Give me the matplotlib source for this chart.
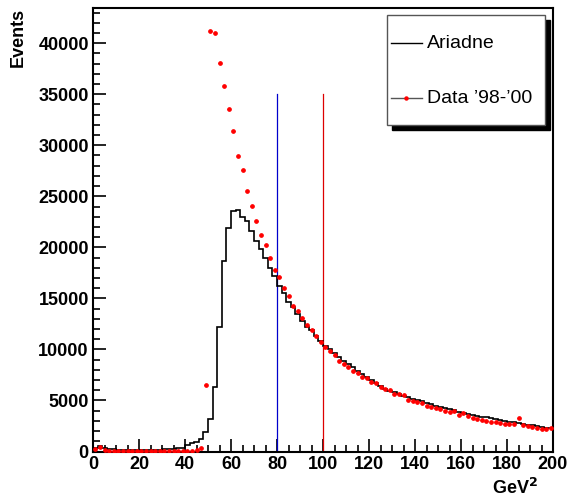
import numpy as np
import matplotlib.pyplot as plt
from matplotlib.ticker import MultipleLocator
from matplotlib.lines import Line2D
from matplotlib.patches import Rectangle

# ===============================
# Data (2 GeV^2 bins, 0 - 200)
# ===============================
bin_edges = np.arange(0, 202, 2)

ariadne = [
    300, 550, 330, 250, 200, 180, 170, 170, 170, 170,        # 0-20
    170, 170, 175, 180, 190, 200, 230, 260, 300, 370,        # 20-40
    640, 800, 900, 1200, 1940, 3200, 6300, 12200, 18700, 21900,  # 40-60
    23600, 23700, 22950, 22600, 21600, 20650, 19800, 18930, 17950, 17230,  # 60-80
    16220, 15550, 14680, 14130, 13475, 12820, 12170, 11900, 11320, 10830,  # 80-100
    10340, 10020, 9620, 9250, 8850, 8550, 8250, 7900, 7600, 7250,          # 100-120
    7000, 6700, 6400, 6150, 5950, 5800, 5650, 5480, 5350, 5180,            # 120-140
    5050, 4900, 4780, 4640, 4500, 4380, 4250, 4150, 4050, 3900,            # 140-160
    3800, 3700, 3600, 3520, 3420, 3350, 3250, 3150, 3080, 3000,            # 160-180
    2920, 2850, 2780, 2700, 2630, 2560, 2480, 2400, 2340, 2270,            # 180-200
]

data = [
    215, 410, 150, 80, 60, 55, 50, 50, 50, 50,
    50, 50, 50, 50, 50, 50, 50, 50, 50, 50,
    50, 80, 150, 370, 6520, 41200, 41000, 38100, 35850, 33600,
    31400, 28930, 27590, 25500, 24060, 22620, 21250, 20210, 18930, 17820,
    17130, 15990, 15210, 14290, 13740, 13110, 12400, 11910, 11320, 10700,
    10280, 9800, 9480, 8900, 8530, 8240, 7910, 7660, 7330, 7170,
    6780, 6680, 6360, 6160, 6060, 5640, 5640, 5500, 5050, 4950,
    4820, 4720, 4460, 4390, 4230, 4130, 4000, 3900, 3960, 3570,
    3730, 3500, 3240, 3170, 3110, 2940, 2910, 2880, 2840, 2740,
    2700, 2650, 3330, 2580, 2450, 2420, 2320, 2250, 2190, 2320,
]

cut_lines = [80, 100]
cut_colors = ["#0000cc", "#dd0000"]
cut_top = 35000

# ===============================
# Figure
# ===============================
plt.rcParams['font.family'] = ['Liberation Sans', 'DejaVu Sans']

fig = plt.figure(figsize=(5.73, 4.98), dpi=100)
ax = fig.add_axes([93 / 573, 1 - 451.5 / 498, 460 / 573, 443.5 / 498])

centers = 0.5 * (bin_edges[:-1] + bin_edges[1:])
ax.stairs(ariadne, bin_edges, color="black", lw=1.2, zorder=3)
ax.errorbar(centers, data, xerr=0.6, fmt="o", color="red", ms=2.4,
            mec="red", elinewidth=0.8, capsize=0, zorder=4)

for xc, c in zip(cut_lines, cut_colors):
    ax.plot([xc, xc], [0, cut_top], color=c, lw=0.9, zorder=2)

ax.set_xlim(0, 200)
ax.set_ylim(0, 43450)

ax.xaxis.set_major_locator(MultipleLocator(20))
ax.xaxis.set_minor_locator(MultipleLocator(5))
ax.yaxis.set_major_locator(MultipleLocator(5000))
ax.yaxis.set_minor_locator(MultipleLocator(1000))
ax.tick_params(which="both", direction="in", top=False, right=False, width=1.2)
ax.tick_params(which="major", length=9.2, labelsize=13)
ax.tick_params(which="minor", length=4.8)
ax.tick_params(axis="y", pad=3)
ax.tick_params(axis="x", pad=3)
for lab in ax.get_xticklabels() + ax.get_yticklabels():
    lab.set_fontweight("bold")

for s in ax.spines.values():
    s.set_linewidth(1.5)

ax.set_ylabel("Events", fontsize=13, fontweight="bold")
ax.yaxis.set_label_coords(-0.145, 1.0, transform=ax.transAxes)
ax.yaxis.label.set_horizontalalignment("right")
fig.text(538 / 573, 1 - 494 / 498, r"GeV$^{\mathbf{2}}$", fontsize=13, fontweight="bold",
         ha="right", va="baseline")

# legend box with shadow (ROOT style)
bx0, by0, bw, bh = 386.7 / 573, 1 - 125 / 498, 158.3 / 573, 110 / 498
fig.patches.append(Rectangle((bx0 + 5 / 573, by0 - 5 / 498), bw, bh, transform=fig.transFigure,
                             facecolor="black", edgecolor="black", zorder=5))
fig.patches.append(Rectangle((bx0, by0), bw, bh, transform=fig.transFigure,
                             facecolor="white", edgecolor="#555555", lw=1.0, zorder=6))
y1 = 1 - 43.3 / 498
y2 = 1 - 98.3 / 498
fig.lines.append(Line2D([390.7 / 573, 421.7 / 573], [y1, y1], transform=fig.transFigure,
                        color="black", lw=1.0, zorder=7))
fig.lines.append(Line2D([390.7 / 573, 421.7 / 573], [y2, y2], transform=fig.transFigure,
                        color="#555555", lw=1.0, zorder=7))
fig.lines.append(Line2D([406.2 / 573], [y2], transform=fig.transFigure, marker="o",
                        color="red", ms=2.2, zorder=8))
fig.text(426.7 / 573, y1, "Ariadne", fontsize=14, va="center", ha="left", zorder=9)
fig.text(426.7 / 573, y2, "Data \u201998-\u201900", fontsize=14, va="center", ha="left", zorder=9)

fig.savefig("out.png", dpi=100)
